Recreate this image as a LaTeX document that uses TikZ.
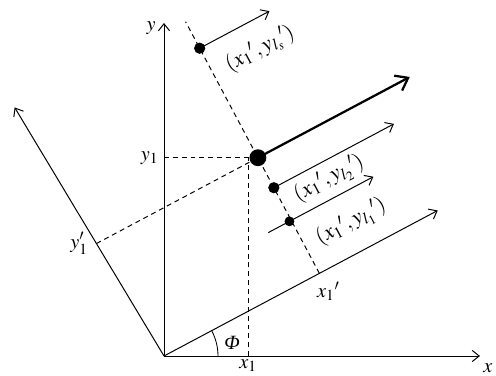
\documentclass[tikz,border=0pt]{standalone}
\usepackage{mathptmx}
\usepackage{fontspec}
\setmainfont{Liberation Serif}
\usetikzlibrary{arrows.meta,calc}

\begin{document}
\begin{tikzpicture}[x=0.025cm, y=0.025cm,
axis/.style={-{Straight Barb[length=5pt,width=8pt]}, line width=0.7pt},
guide/.style={dash pattern=on 3.5pt off 2.8pt, line width=0.7pt},
vec/.style={-{Straight Barb[length=5pt,width=8pt]}, line width=0.7pt},
bigvec/.style={-{Straight Barb[length=8pt,width=12pt]}, line width=1.6pt},
pt/.style={circle, fill=black, inner sep=0pt, minimum size=#1},
lbl/.style={font=\Large, inner sep=1pt},
tag/.style={font=\fontsize{15.5}{18}\selectfont, inner sep=0pt}
]
\useasboundingbox (-164,-20) rectangle (332,356);

% Fixed frame
\coordinate (O) at (0,0);
\coordinate (x_end) at (316,0);
\coordinate (y_end) at (0,333);
\coordinate (yp_end) at (121:290);
\coordinate (x1) at (84,0);

% Rotated frame, turned by Phi
\begin{scope}[rotate=28]
\coordinate (xp_end) at (310,0);
\coordinate (x1p) at (176,0);
\coordinate (top) at (176,285);
\coordinate (P) at (176,131);
\coordinate (big_tip) at (348,131);
\coordinate (ls) at (176,255);
\coordinate (ls_tip) at (255,255);
\coordinate (l2) at (176,97);
\coordinate (l2_tip) at (312,97);
\coordinate (l1) at (174,60);
\coordinate (l1_start) at (150,60);
\coordinate (l1_tip) at (269,60);
\node[tag, rotate=28] (ls_lbl) at (229,226) {$(x_1{}', y_{l_s}{}')$};
\node[tag, rotate=28] (l2_lbl) at (229,79) {$(x_1{}', y_{l_2}{}')$};
\node[tag, rotate=28] (l1_lbl) at (228,30) {$(x_1{}', y_{l_1}{}')$};
\end{scope}
\coordinate (P_back) at ($(P)+(208:100)$);
\coordinate (y1p) at (intersection of P--P_back and O--yp_end);

% Axes
\draw[axis] (O) -- (x_end);
\draw[axis] (O) -- (y_end);
\draw[axis] (O) -- (xp_end);
\draw[axis] (O) -- (yp_end);
\draw[line width=0.6pt] (54,0) arc (0:28:54);

% Dashed guides
\draw[guide] (x1p) -- (top);
\draw[guide] (O |- P) -- (P);
\draw[guide] (x1) -- (x1 |- P);
\draw[guide] (y1p) -- (P);

% Vectors
\draw[bigvec] (P) -- (big_tip);
\draw[vec] (ls) -- (ls_tip);
\draw[vec] (l2) -- (l2_tip);
\draw[vec] (l1_start) -- (l1_tip);

% Points
\node[pt=12pt] (p_big) at (P) {};
\node[pt=8pt] (p_ls) at (ls) {};
\node[pt=8pt] (p_l2) at (l2) {};
\node[pt=7pt] (p_l1) at (l1) {};

% Labels
\node[lbl] (x_lbl) at (324,-12) {$x$};
\node[lbl] (y_lbl) at (-13,328) {$y$};
\node[lbl, anchor=north] (x1_lbl) at ($(x1)+(0,-2)$) {$x_1$};
\node[lbl, anchor=east] (y1_lbl) at ($(O |- P)+(-4,0)$) {$y_1$};
\node[lbl, anchor=east] (y1p_lbl) at ($(y1p)+(-7,0)$) {$y_1'$};
\node[lbl] (x1p_lbl) at ($(x1p)+(9,-18)$) {$x_1{}'$};
\node[lbl] (phi_lbl) at (68,13) {\itshape Φ};
\end{tikzpicture}
\end{document}
